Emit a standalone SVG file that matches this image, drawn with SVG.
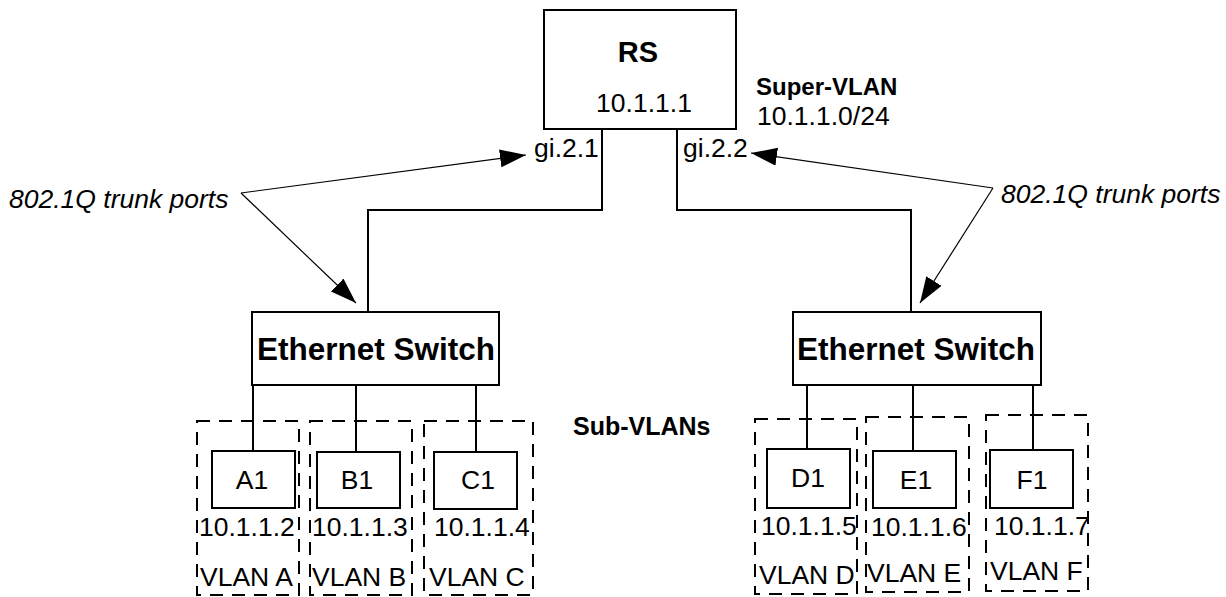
<svg xmlns="http://www.w3.org/2000/svg" width="1226" height="597" viewBox="0 0 1226 597">
  <style>
    .box { fill: #fff; stroke: #000; stroke-width: 2; }
    .vlan { fill: none; stroke: #000; stroke-width: 2; stroke-dasharray: 13 9; }
    .wire { fill: none; stroke: #000; stroke-width: 2; }
    .callout { fill: none; stroke: #000; stroke-width: 1.2; }
    text { font-family: "Liberation Sans", Arial, sans-serif; fill: #000; }
    .t { font-size: 26.5px; }
    .b { font-size: 24px; font-weight: bold; }
    .big { font-size: 31.5px; font-weight: bold; }
    .i { font-size: 26.5px; font-style: italic; }
    .mid { text-anchor: middle; }
  </style>
  <defs>
    <marker id="head" markerUnits="userSpaceOnUse" markerWidth="28" markerHeight="20" refX="26" refY="9" orient="auto">
      <path d="M0,0 L26,9 L0,18 z" fill="#000"/>
    </marker>
  </defs>

  <!-- VLAN membership outlines -->
  <g id="vlans">
    <rect class="vlan" x="197" y="421" width="102" height="174"/>
    <rect class="vlan" x="310" y="421" width="102" height="174"/>
    <rect class="vlan" x="424" y="421" width="109" height="174"/>
    <rect class="vlan" x="755" y="419" width="102" height="175"/>
    <rect class="vlan" x="866" y="417" width="103" height="175"/>
    <rect class="vlan" x="986" y="415" width="102" height="176"/>
  </g>

  <!-- links -->
  <g id="connectors">
    <polyline class="wire" points="602,129 602,210 368,210 368,312"/>
    <polyline class="wire" points="677,129 677,210 911,210 911,312"/>
    <line class="wire" x1="253" y1="385" x2="253" y2="451"/>
    <line class="wire" x1="356" y1="385" x2="356" y2="452"/>
    <line class="wire" x1="476" y1="385" x2="476" y2="452"/>
    <line class="wire" x1="807" y1="385" x2="807" y2="449"/>
    <line class="wire" x1="913" y1="385" x2="913" y2="451"/>
    <line class="wire" x1="1033" y1="385" x2="1033" y2="450"/>
    <!-- trunk port callouts -->
    <line class="callout" x1="241" y1="193" x2="526" y2="155" marker-end="url(#head)"/>
    <line class="callout" x1="241" y1="193" x2="356" y2="303" marker-end="url(#head)"/>
    <line class="callout" x1="993" y1="188" x2="751" y2="153" marker-end="url(#head)"/>
    <line class="callout" x1="993" y1="188" x2="920" y2="303" marker-end="url(#head)"/>
  </g>

  <g id="rs">
    <rect class="box" x="544" y="10" width="192" height="119"/>
    <text class="mid" x="638" y="62" style="font-size:29px;font-weight:bold">RS</text>
    <text class="t mid" x="644" y="112">10.1.1.1</text>
  </g>

  <g id="super-vlan">
    <text class="b" x="756" y="95">Super-VLAN</text>
    <text class="t" x="757" y="125">10.1.1.0/24</text>
  </g>

  <g id="ports">
    <text class="t" x="534" y="157">gi.2.1</text>
    <text class="t" x="683" y="157">gi.2.2</text>
  </g>

  <g id="trunk-labels">
    <text class="i" x="9" y="208">802.1Q trunk ports</text>
    <text class="i" x="1001" y="203">802.1Q trunk ports</text>
  </g>

  <g id="switch-left">
    <rect class="box" x="252" y="312" width="247" height="73"/>
    <text class="big mid" x="376" y="360">Ethernet Switch</text>
  </g>

  <g id="switch-right">
    <rect class="box" x="793" y="312" width="248" height="73"/>
    <text class="big mid" x="916" y="360">Ethernet Switch</text>
  </g>

  <text x="573" y="435" style="font-size:25px;font-weight:bold">Sub-VLANs</text>

  <g id="host-a1">
    <rect class="box" x="212" y="451" width="83" height="57"/>
    <text class="t mid" x="252" y="489">A1</text>
    <text class="t" x="199" y="536">10.1.1.2</text>
    <text class="t" x="200" y="586">VLAN A</text>
  </g>
  <g id="host-b1">
    <rect class="box" x="317" y="452" width="83" height="56"/>
    <text class="t mid" x="357" y="489">B1</text>
    <text class="t" x="312" y="536">10.1.1.3</text>
    <text class="t" x="312" y="586">VLAN B</text>
  </g>
  <g id="host-c1">
    <rect class="box" x="434" y="452" width="83" height="57"/>
    <text class="t mid" x="478" y="489">C1</text>
    <text class="t" x="434" y="536">10.1.1.4</text>
    <text class="t" x="429" y="586">VLAN C</text>
  </g>
  <g id="host-d1">
    <rect class="box" x="767" y="449" width="83" height="59"/>
    <text class="t mid" x="808" y="487">D1</text>
    <text class="t" x="761" y="535">10.1.1.5</text>
    <text class="t" x="759" y="584">VLAN D</text>
  </g>
  <g id="host-e1">
    <rect class="box" x="873" y="451" width="83" height="57"/>
    <text class="t mid" x="916" y="489">E1</text>
    <text class="t" x="871" y="536">10.1.1.6</text>
    <text class="t" x="867" y="582">VLAN E</text>
  </g>
  <g id="host-f1">
    <rect class="box" x="990" y="450" width="83" height="58"/>
    <text class="t mid" x="1032" y="489">F1</text>
    <text class="t" x="994" y="535">10.1.1.7</text>
    <text class="t" x="990" y="580">VLAN F</text>
  </g>
</svg>
